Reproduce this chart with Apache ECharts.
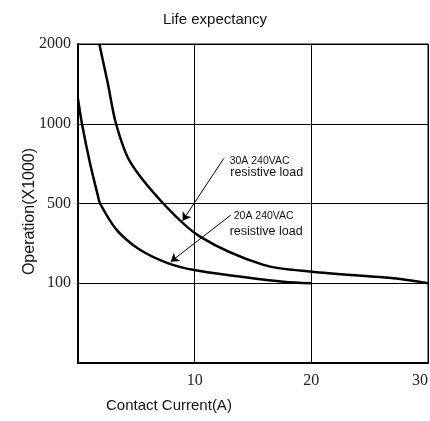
<!DOCTYPE html>
<html>
<head>
<meta charset="utf-8">
<script src="https://cdn.jsdelivr.net/npm/echarts@6/dist/echarts.min.js"></script>
<style>
html,body{margin:0;padding:0;background:#fff}
#chart{width:430px;height:421px}
</style>
</head>
<body>
<div id="chart"></div>
<script>
// evenly spaced tick levels on the y axis (bottom line has no label)
var yTicks = [0, 100, 500, 1000, 2000];
var xTicks = [10, 20, 30];

// 30A 240VAC resistive load
var current30 = [1.83, 2.55, 3.26, 4.46, 7.31, 10.46, 15.9, 20, 27.3, 30];
var life30 = [2000, 1510, 1000, 762, 500, 334, 192, 158, 124, 100];

// 20A 240VAC resistive load
var current20 = [0, 0.34, 1.03, 1.69, 1.89, 3.31, 5.31, 7.74, 9.97, 13.3, 17.6, 20];
var life20 = [1310, 1000, 752, 553, 500, 368, 268, 200, 166, 138, 108, 100];

// map an operation value onto the evenly spaced tick levels
var toLevel = function (v) {
    for (var i = 1; i < yTicks.length; i++) {
        if (v <= yTicks[i]) {
            return i - 1 + (v - yTicks[i - 1]) / (yTicks[i] - yTicks[i - 1]);
        }
    }
    return yTicks.length - 1;
};

var toPairs = function (xs, ys) {
    var out = [];
    for (var i = 0; i < xs.length; i++) out.push([xs[i], toLevel(ys[i])]);
    return out;
};

var smallLabel = function (text, size) {
    return {
        show: true,
        position: 'right',
        distance: 0,
        formatter: text,
        color: '#111',
        fontFamily: 'Liberation Sans, Arial, sans-serif',
        fontSize: size
    };
};

var chart = echarts.init(document.getElementById('chart'));
var option = {
    animation: false,
    backgroundColor: '#fff',
    title: {
        text: 'Life expectancy',
        left: 'center',
        top: 7,
        textStyle: {
            fontFamily: 'Liberation Sans, Arial, sans-serif',
            fontSize: 15,
            fontWeight: 'normal',
            color: '#111'
        }
    },
    grid: {
        left: 78,
        right: 2,
        top: 44,
        bottom: 58,
        outerBoundsMode: 'none',
        containLabel: false,
        show: true,
        borderColor: '#000',
        borderWidth: 1
    },
    xAxis: {
        type: 'value',
        min: 0,
        max: 30,
        interval: 10,
        axisLine: {show: true, lineStyle: {color: '#000', width: 2}},
        axisTick: {show: false},
        splitLine: {show: true, lineStyle: {color: '#000', width: 1}},
        axisLabel: {
            margin: 10,
            color: '#222',
            alignMaxLabel: 'right',
            fontFamily: 'Liberation Serif, Times New Roman, serif',
            fontSize: 16,
            formatter: function (v) {
                return xTicks.indexOf(v) >= 0 ? String(v) : '';
            }
        }
    },
    yAxis: {
        type: 'value',
        min: 0,
        max: 4,
        interval: 1,
        name: 'Operation(X1000)',
        nameLocation: 'middle',
        nameGap: 40,
        nameMoveOverlap: false,
        nameTextStyle: {
            color: '#111',
            fontFamily: 'Liberation Sans, Arial, sans-serif',
            fontSize: 16,
            padding: [0, 16, 0, 0]
        },
        axisLine: {show: true, lineStyle: {color: '#000', width: 2}},
        axisTick: {show: false},
        splitLine: {show: true, lineStyle: {color: '#000', width: 1}},
        axisLabel: {
            margin: 7,
            color: '#222',
            fontFamily: 'Liberation Serif, Times New Roman, serif',
            fontSize: 16,
            formatter: function (v) {
                return v > 0 ? String(yTicks[v]) : '';
            }
        }
    },
    graphic: [{
        type: 'text',
        left: 106,
        top: 398,
        style: {
            text: 'Contact Current(A)',
            fill: '#111',
            font: '15px Liberation Sans, Arial, sans-serif'
        }
    }],
    series: [
        {
            name: '30A 240VAC',
            type: 'line',
            data: toPairs(current30, life30),
            smooth: 0.3,
            symbol: 'none',
            lineStyle: {color: '#000', width: 2.5},
            markLine: {
                silent: true,
                symbol: ['none', 'arrow'],
                symbolSize: 8,
                label: {show: false},
                lineStyle: {color: '#000', width: 1, type: 'solid'},
                data: [[{coord: [12.5, toLevel(783)]}, {coord: [8.97, toLevel(414)]}]]
            },
            markPoint: {
                silent: true,
                symbol: 'circle',
                symbolSize: 0,
                data: [
                    {coord: [13.0, toLevel(767)], label: smallLabel('30A 240VAC', 10.5)},
                    {coord: [13.05, toLevel(691)], label: smallLabel('resistive load', 12.5)}
                ]
            }
        },
        {
            name: '20A 240VAC',
            type: 'line',
            data: toPairs(current20, life20),
            smooth: 0.3,
            symbol: 'none',
            lineStyle: {color: '#000', width: 2.5},
            markLine: {
                silent: true,
                symbol: ['none', 'arrow'],
                symbolSize: 8,
                label: {show: false},
                lineStyle: {color: '#000', width: 1, type: 'solid'},
                data: [[{coord: [13.1, toLevel(442)]}, {coord: [7.95, toLevel(208)]}]]
            },
            markPoint: {
                silent: true,
                symbol: 'circle',
                symbolSize: 0,
                data: [
                    {coord: [13.35, toLevel(438)], label: smallLabel('20A 240VAC', 10.5)},
                    {coord: [13.0, toLevel(357)], label: smallLabel('resistive load', 12.5)}
                ]
            }
        }
    ]
};
chart.setOption(option);
</script>
</body>
</html>
